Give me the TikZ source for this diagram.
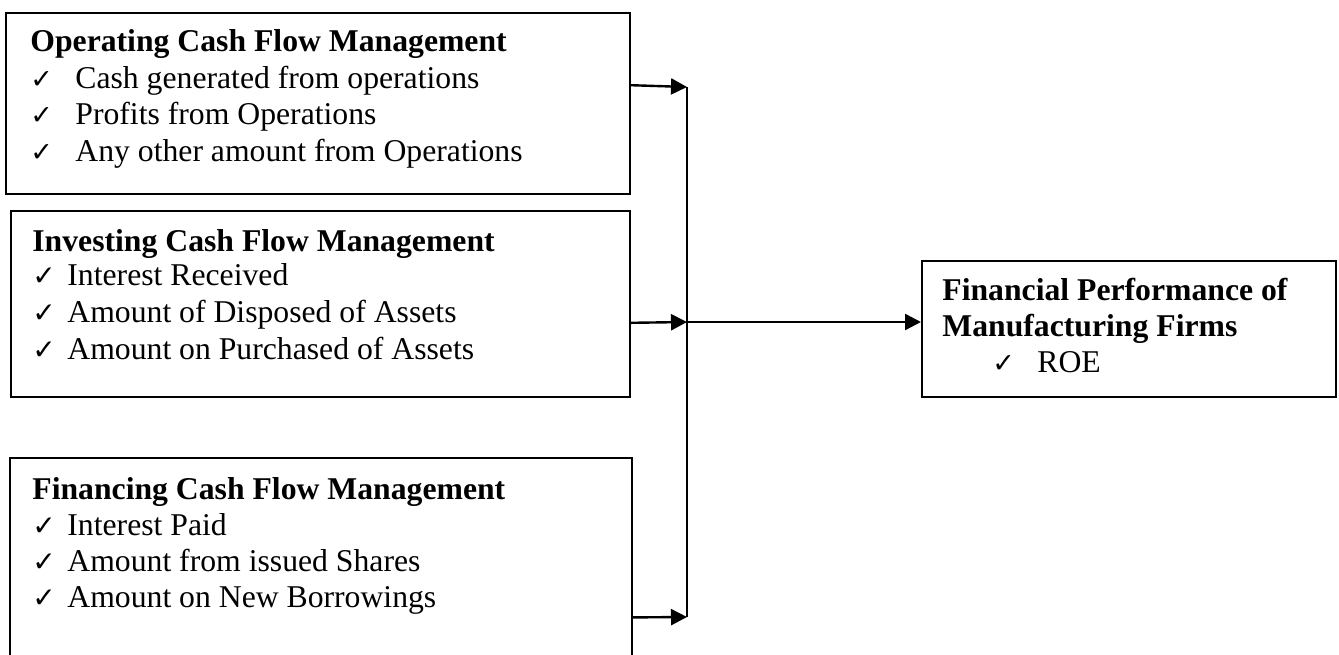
\documentclass[tikz,border=0pt]{standalone}
\usepackage{fontspec}
\setmainfont{Liberation Serif}
\newfontfamily\tickfont{DejaVu Sans}
\usetikzlibrary{arrows.meta}
\usetikzlibrary{calc}
\newcommand{\tick}[1][13.5]{{\tickfont\fontsize{#1}{15}\selectfont ✓}}

\begin{document}
\begin{tikzpicture}[x=0.5pt,y=-0.5pt,
    box/.style={draw,line width=1pt,anchor=north west,inner sep=0pt},
    txt/.style={anchor=base west,inner sep=0pt,font=\fontsize{15.85}{18}\selectfont},
    head/.style={anchor=base west,inner sep=0pt,font=\fontsize{15.85}{18}\selectfont\bfseries},
    flow/.style={-{Triangle[length=8pt,width=8pt]},line width=1.2pt}]
            \useasboundingbox (0,0) rectangle (1339,654);
            % boxes
            \node[box,minimum width=312pt,minimum height=90.5pt] (opbox) at (5,12) {};
            \node[box,minimum width=309.5pt,minimum height=93pt] (invbox) at (10,210) {};
            \node[anchor=north west,inner sep=0pt,minimum width=310.5pt,minimum height=98pt] (finbox) at (10,458) {};
            \draw[line width=1pt] (finbox.south west) |- (finbox.north east) -- (finbox.south east);
            \node[box,minimum width=207pt,minimum height=68pt] (perfbox) at (921,260) {};
            % operating
            \node[head] (ophead) at (30,51) {Operating Cash Flow Management};
            \node[txt] (optick1) at (30,88) {\tick};
            \node[txt] (optick2) at (30,124) {\tick};
            \node[txt] (optick3) at (30,161) {\tick};
            \node[txt] (op1) at (75,88) {Cash generated from operations};
            \node[txt] (op2) at (75,124) {Profits from Operations};
            \node[txt] (op3) at (75,161) {Any other amount from Operations};
            % investing
            \node[head] (invhead) at (32,251) {Investing Cash Flow Management};
            \node[txt] (invtick1) at (32,285) {\tick[14]};
            \node[txt] (invtick2) at (32,322) {\tick[14]};
            \node[txt] (invtick3) at (32,359) {\tick[14]};
            \node[txt] (inv1) at (67,285) {Interest Received};
            \node[txt] (inv2) at (67,322) {Amount of Disposed of Assets};
            \node[txt] (inv3) at (67,359) {Amount on Purchased of Assets};
            % financing
            \node[head] (finhead) at (32,499) {Financing Cash Flow Management};
            \node[txt] (fintick1) at (32,535) {\tick[14]};
            \node[txt] (fintick2) at (32,571) {\tick[14]};
            \node[txt] (fintick3) at (32,607) {\tick[14]};
            \node[txt] (fin1) at (67,535) {Interest Paid};
            \node[txt] (fin2) at (67,571) {Amount from issued Shares};
            \node[txt] (fin3) at (67,607) {Amount on New Borrowings};
            % performance
            \node[head] (perfhead1) at (942,300) {Financial Performance of};
            \node[head] (perfhead2) at (942,336) {Manufacturing Firms};
            \node[txt] (perftick) at (992,372) {\tick};
            \node[txt] (perf1) at (1037,372) {ROE};
            % connectors
            \coordinate (jtop) at (687,87);
            \coordinate (jmid) at (687,322);
            \coordinate (jbot) at (687,617);
            \draw[line width=0.6pt] (jtop) -- (jbot);
            \draw[flow] ($(opbox.north east)!0.4!(opbox.south east)$) -- (jtop);
            \draw[flow] ($(invbox.north east)!0.6!(invbox.south east)$) -- (jmid);
            \draw[flow] ($(finbox.north east)!0.81!(finbox.south east)$) -- (jbot);
            \draw[flow] (jmid) -- (jmid -| perfbox.west);
        \end{tikzpicture}
\end{document}
